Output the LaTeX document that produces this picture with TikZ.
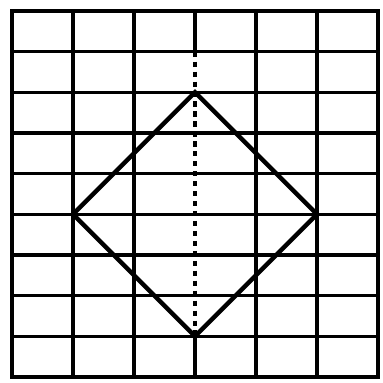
\documentclass[tikz,border=0pt]{standalone}
\usetikzlibrary{calc}

\begin{document}
\begin{tikzpicture}[
    x=1.83cm, y=1.22cm,
    gridline/.style={line width=3pt, line cap=rect},
    shapeline/.style={line width=3.8pt, line join=miter},
    dotline/.style={line width=3pt, dash pattern=on 4.5pt off 4pt}
]
    % 0. Frame with the same margins as the picture
    \useasboundingbox (-0.197,-0.148) rectangle (6.066,9.27);

    % 1. Grid (6 columns, 9 rows), middle column line only solid at the ends
    \foreach \y in {0,...,9} \draw[gridline] (0,\y) -- (6,\y);
    \foreach \x in {0,1,2,4,5,6} \draw[gridline] (\x,0) -- (\x,9);
    \draw[gridline] (3,0) -- (3,1);
    \draw[gridline] (3,8) -- (3,9);

    % 2. Corners of the square
    \coordinate (top) at (3,7);
    \coordinate (left) at (1,4);
    \coordinate (right) at (5,4);
    \coordinate (bottom) at (3,1);
    \coordinate (axis) at (3,8);

    % 3. Dotted axis and the square
    \draw[dotline] (axis) -- (bottom);
    \draw[shapeline] (top) -- (right) -- (bottom) -- (left) -- cycle;

\end{tikzpicture}
\end{document}
